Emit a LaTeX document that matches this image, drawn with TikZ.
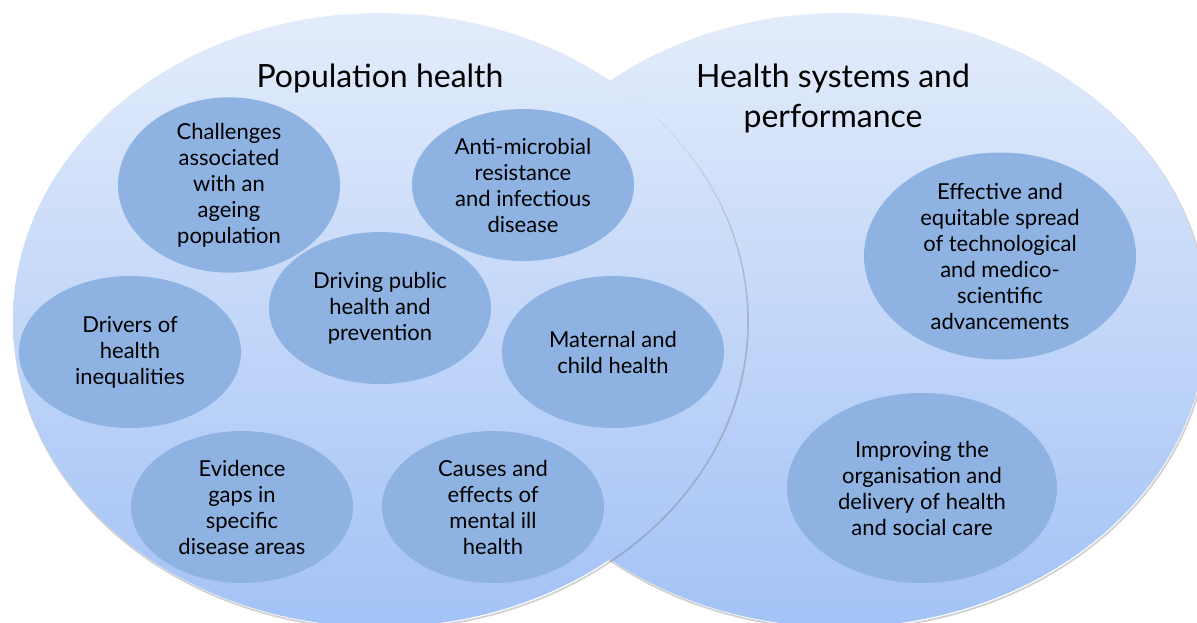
\documentclass[tikz,border=0pt]{standalone}
\usepackage{fontspec}
\setmainfont{Lato}
\usetikzlibrary{shapes.geometric}
\definecolor{areatop}{RGB}{227,236,251}
\definecolor{areabottom}{RGB}{163,194,246}
\definecolor{topicblue}{RGB}{142,179,226}
\begin{document}
\begin{tikzpicture}[x=0.5pt,y=-0.5pt,
    area/.style={top color=areatop, bottom color=areabottom},
    rim/.style={draw=black!60, opacity=0.3, line width=0.9pt},
    topic/.style={ellipse, fill=topicblue, inner sep=0pt, minimum width=111pt,
        minimum height=76pt, align=center, font=\fontsize{11}{13}\selectfont},
    heading/.style={align=center, font=\fontsize{16}{20}\selectfont}]
    \useasboundingbox (0,0) rectangle (1197,622);
    \clip (0,0) rectangle (1197,622);
    % Health systems and performance
    \draw[rim] (841,322) ellipse [x radius=183.5pt, y radius=153.5pt];
    \shade[area] (840,320) ellipse [x radius=183.5pt, y radius=153.5pt];
    % Population health
    \draw[rim] (381,322) ellipse [x radius=183.5pt, y radius=153.5pt];
    \shade[area] (380,320) ellipse [x radius=183.5pt, y radius=153.5pt];
    % headings
    \node[heading] (pophead) at (380,78) {Population health};
    \node[heading] (syshead) at (833,98) {Health systems and\\performance};
    % population health topics
    \node[topic] (ageing) at (229,185) {Challenges\\associated\\with an\\ageing\\population};
    \node[topic] (amr) at (523,185) {Anti-microbial\\resistance\\and infectious\\disease};
    \node[topic] (prevention) at (380,308) {Driving public\\health and\\prevention};
    \node[topic] (inequal) at (130,352) {Drivers of\\health\\inequalities};
    \node[topic] (maternal) at (613,352) {Maternal and\\child health};
    \node[topic] (evidence) at (242,507) {Evidence\\gaps in\\specific\\disease areas};
    \node[topic] (mental) at (493,507) {Causes and\\effects of\\mental ill\\health};
    % health systems topics
    \node[topic, minimum width=136pt, minimum height=97pt] (tech) at (1000,256)
        {Effective and\\equitable spread\\of technological\\and medico-\\scientific\\advancements};
    \node[topic, minimum width=135pt, minimum height=95pt] (care) at (922,488)
        {Improving the\\organisation and\\delivery of health\\and social care};
\end{tikzpicture}
\end{document}
